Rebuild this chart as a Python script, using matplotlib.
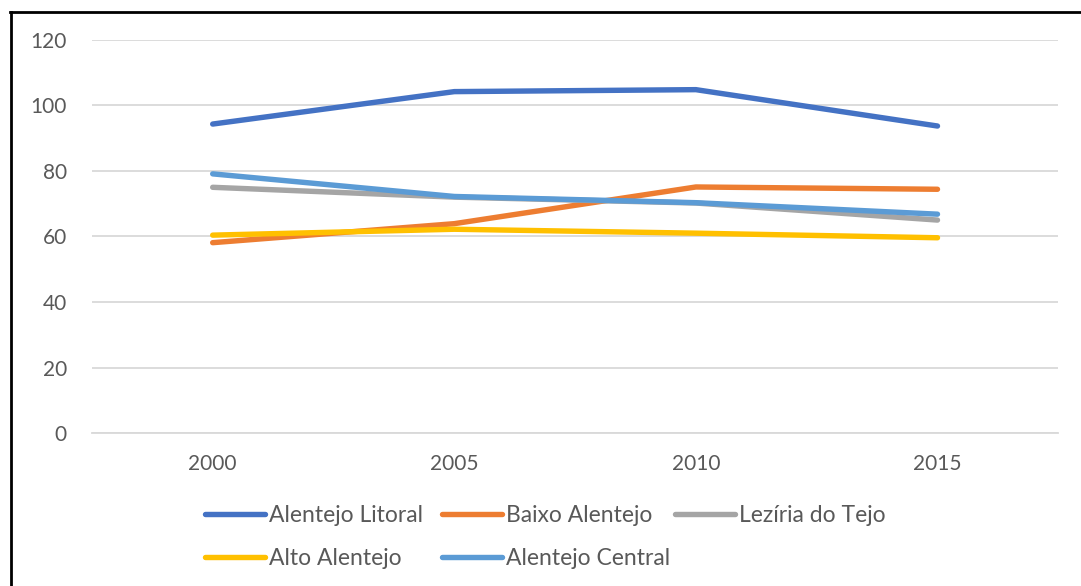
import matplotlib
matplotlib.use("Agg")
import matplotlib.pyplot as plt
from matplotlib.lines import Line2D

# --- data ---
years = ["2000", "2005", "2010", "2015"]
alentejo_litoral = [94.3, 104.2, 104.8, 93.7]
baixo_alentejo = [58.1, 63.9, 75.1, 74.4]
leziria_do_tejo = [75.0, 72.0, 70.2, 65.0]
alto_alentejo = [60.4, 62.2, 61.0, 59.6]
alentejo_central = [79.1, 72.2, 70.3, 66.8]
y_ticks = [0, 20, 40, 60, 80, 100, 120]

series = [
    ("Alentejo Litoral", alentejo_litoral, "#4472C4"),
    ("Baixo Alentejo", baixo_alentejo, "#ED7D31"),
    ("Lezíria do Tejo", leziria_do_tejo, "#A5A5A5"),
    ("Alto Alentejo", alto_alentejo, "#FFC000"),
    ("Alentejo Central", alentejo_central, "#5B9BD5"),
]

plt.rcParams["font.family"] = ["Lato", "DejaVu Sans"]
TXT = "#595959"
W, H = 1081, 586

fig = plt.figure(figsize=(W / 100, H / 100), dpi=100)
ax = fig.add_axes([0.085, 0.261, 0.894, 0.671])

x = list(range(len(years)))
handles = {}
for name, vals, color in series:
    (ln,) = ax.plot(x, vals, color=color, lw=3.9, solid_capstyle="round",
                    solid_joinstyle="round", label=name)
    handles[name] = ln

ax.set_xlim(-0.5, len(years) - 0.5)
ax.set_ylim(0, 120)
ax.set_xticks(x)
ax.set_xticklabels(years)
ax.set_yticks(y_ticks)
ax.tick_params(axis="both", length=0, labelsize=15, colors=TXT)
ax.tick_params(axis="x", pad=15)
ax.tick_params(axis="y", pad=18)
ax.grid(axis="y", color="#D9D9D9", lw=1.3)
ax.set_axisbelow(True)
for side in ["left", "right", "top"]:
    ax.spines[side].set_visible(False)
ax.spines["bottom"].set_color("#D9D9D9")
ax.spines["bottom"].set_linewidth(1.3)

# legend laid out like Excel: one legend per column, placed side by side
columns = [(["Alentejo Litoral", "Alto Alentejo"], 205),
           (["Baixo Alentejo", "Alentejo Central"], 442),
           (["Lezíria do Tejo"], 675)]
for names, xpx in columns:
    leg = fig.legend([handles[n] for n in names], names, loc="upper left",
                     bbox_to_anchor=(xpx / W, 1 - 505 / H), frameon=False,
                     fontsize=16.5, handlelength=2.6, handletextpad=0.2,
                     labelspacing=0.95, borderpad=0, borderaxespad=0)
    for t in leg.get_texts():
        t.set_color(TXT)

# black frame (left and top edges visible in the crop)
fig.add_artist(Line2D([11 / W, 11 / W], [0, 1 - 12 / H], color="black",
                      lw=2.0, transform=fig.transFigure))
fig.add_artist(Line2D([10 / W, 1], [1 - 12 / H, 1 - 12 / H], color="black",
                      lw=2.0, transform=fig.transFigure))

fig.savefig("out.png", dpi=100)
